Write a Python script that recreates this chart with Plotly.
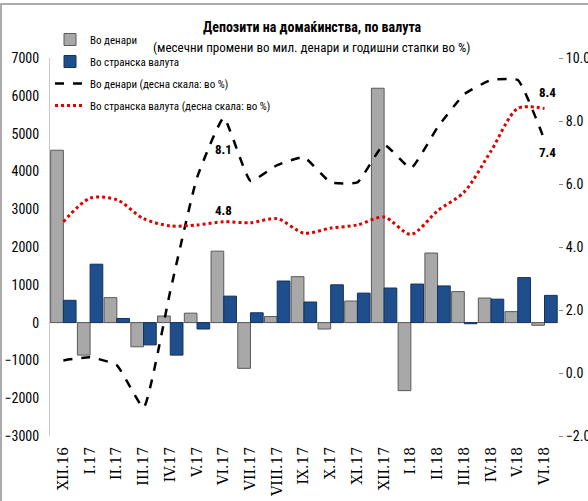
import plotly.graph_objects as go

categories = ["XII.16", "I.17", "II.17", "III.17", "IV.17", "V.17", "VI.17", "VII.17", "VIII.17",
              "IX.17", "X.17", "XI.17", "XII.17", "I.18", "II.18", "III.18", "IV.18", "V.18", "VI.18"]
denari_change = [4560, -860, 660, -640, 175, 250, 1890, -1210, 160, 1215, -170, 570, 6200,
                 -1800, 1840, 820, 650, 290, -70]
foreign_change = [590, 1545, 110, -590, -860, -170, 700, 260, 1100, 545, 1000, 780, 915,
                  1020, 970, -30, 620, 1190, 720]
denari_growth = [0.4, 0.5, 0.25, -1.1, 2.6, 6.2, 8.1, 6.1, 6.6, 6.85, 6.05, 6.05, 7.25,
                 6.5, 7.8, 8.85, 9.3, 9.3, 7.4]
foreign_growth = [4.8, 5.55, 5.5, 4.9, 4.67, 4.7, 4.8, 4.77, 4.9, 4.44, 4.6, 4.7, 4.95,
                  4.4, 5.15, 5.75, 7.05, 8.4, 8.4]

COND = "Roboto Condensed, DejaVu Sans Condensed, sans-serif"
SERIF = "DejaVu Serif, Liberation Serif, serif"

# plot area geometry: paper spans pixel rows 5..436, axes occupy the lower 378 px
TOP_PX, BOTTOM_PX = 5, 436
PAPER_H = BOTTOM_PX - TOP_PX
PLOT_W = 508


def py(px):
    return (BOTTOM_PX - px) / PAPER_H


def pxx(px):
    return (px - 50) / PLOT_W


fig = go.Figure()
fig.add_trace(go.Bar(x=categories, y=denari_change, name="Во денари", legendgroup="a",
                     marker=dict(color="#A8A8A8", line=dict(color="#5A5A5A", width=1))))
fig.add_trace(go.Bar(x=categories, y=foreign_change, name="Во странска валута", legendgroup="b",
                     marker=dict(color="#1F4E8C", line=dict(color="#14325C", width=1))))
fig.add_trace(go.Scatter(x=categories, y=denari_growth, name="Во денари (десна скала: во %)",
                         yaxis="y2", mode="lines", legendgroup="c",
                         line=dict(color="black", width=2.5, dash="dash", shape="spline", smoothing=0.4)))
fig.add_trace(go.Scatter(x=categories, y=foreign_growth, name="Во странска валута (десна скала: во %)",
                         yaxis="y2", mode="lines", legendgroup="d",
                         line=dict(color="#E00000", width=3, dash="dot", shape="spline", smoothing=0.8)))

ann_font = dict(family=COND, size=13, color="black")
annotations = [
    dict(x="VI.17", y=7.1, xref="x", yref="y2", text="<b>8.1</b>", showarrow=False, font=ann_font),
    dict(x="VI.17", y=5.15, xref="x", yref="y2", text="<b>4.8</b>", showarrow=False, font=ann_font),
    dict(x="VI.18", y=8.9, xref="x", yref="y2", text="<b>8.4</b>", showarrow=False, font=ann_font, xshift=3),
    dict(x="VI.18", y=7.0, xref="x", yref="y2", text="<b>7.4</b>", showarrow=False, font=ann_font, xshift=3),
    dict(x=pxx(312), y=py(27), xref="paper", yref="paper", showarrow=False,
         xanchor="center", yanchor="middle",
         text="<b>Депозити на домаќинства, по валута</b>",
         font=dict(family=COND, size=14, color="black")),
    dict(x=pxx(311), y=py(47), xref="paper", yref="paper", showarrow=False,
         xanchor="center", yanchor="middle",
         text="(месечни промени во мил. денари и годишни стапки во %)",
         font=dict(family=COND, size=13, color="black")),
]

fig.update_layout(
    width=588, height=501,
    margin=dict(l=50, r=30, t=TOP_PX, b=501 - BOTTOM_PX, autoexpand=False),
    paper_bgcolor="white", plot_bgcolor="white",
    barmode="group", bargap=0.05, bargroupgap=0,
    showlegend=True,
    legend=dict(x=0, y=py(25), xanchor="left", yanchor="top",
                bgcolor="rgba(0,0,0,0)", font=dict(family=COND, size=11, color="black"),
                tracegroupgap=3, itemwidth=30),
    xaxis=dict(type="category", tickangle=-90, showgrid=False, showline=False, ticks="",
               automargin=False, ticklabelstandoff=7,
               tickfont=dict(family=SERIF, size=14, color="black")),
    yaxis=dict(range=[-3000, 7000], dtick=1000, showgrid=False, zeroline=True,
               domain=[0, 378 / PAPER_H], automargin=False, ticklabelstandoff=7,
               zerolinecolor="#A0A0A0", zerolinewidth=1,
               showline=True, linecolor="#C8C8C8", linewidth=1, ticks="",
               tickfont=dict(family=COND, size=14, color="black")),
    yaxis2=dict(range=[-2, 10], dtick=2, tickformat=".1f", overlaying="y", side="right",
                automargin=False,
                showgrid=False, zeroline=False, showline=False, ticks="outside", ticklen=4,
                tickcolor="#888888",
                tickfont=dict(family=COND, size=14, color="black")),
    annotations=annotations,
    shapes=[dict(type="rect", xref="paper", yref="paper",
                 x0=pxx(1), x1=1.3, y0=-0.5, y1=py(4),
                 line=dict(color="#909090", width=1.5), layer="below")],
)

fig.write_html("out.html", config={"displayModeBar": False},
               post_script="document.body.style.margin='0';")
